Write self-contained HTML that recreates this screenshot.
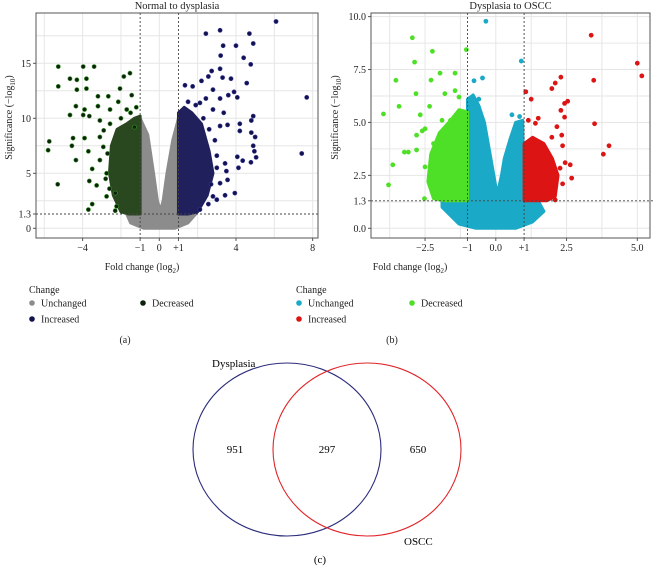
<!DOCTYPE html>
<html><head><meta charset="utf-8">
<style>
html,body{margin:0;padding:0;background:#fff;}
svg{display:block;font-family:"Liberation Serif",serif;}
</style></head>
<body>
<svg id="fig" width="654" height="569" viewBox="0 0 654 569" xmlns="http://www.w3.org/2000/svg">
  <g id="left"></g>
  <g id="right"></g>
  <g>
    <ellipse cx="287" cy="449.5" rx="94" ry="86.5" fill="none" stroke="#2b2d7a" stroke-width="1.1"/>
    <ellipse cx="367" cy="449.5" rx="94" ry="86.5" fill="none" stroke="#e0262a" stroke-width="1.1"/>
    <text x="212" y="367" font-size="11">Dysplasia</text>
    <text x="235" y="453" font-size="11" text-anchor="middle">951</text>
    <text x="327" y="453" font-size="11" text-anchor="middle">297</text>
    <text x="418" y="453" font-size="11" text-anchor="middle">650</text>
    <text x="404" y="545" font-size="11">OSCC</text>
    <text x="320" y="563" font-size="11" text-anchor="middle">(c)</text>
  </g>
</svg>
<script>
// ---- Panel (a) data ----
const aXTicks = [-4, -1, 0, 1, 4, 8];
const aXTickLabels = ["\u22124", "\u22121", "0", "+1", "4", "8"];
const aYTicks = [0, 1.3, 5, 10, 15];
const aYTickLabels = ["0", "1.3", "5", "10", "15"];
const aUnchangedCloud = [[-1,10],[-0.6,8.5],[-0.3,5],[-0.1,2.5],[0.05,1.6],[0.2,2.5],[0.4,5],[0.7,8],[1,10],[1,1.3],[1.9,1.3],[1.5,0.5],[0.8,0],[-0.8,0],[-1.5,0.5],[-1.7,1.3],[-1,1.3]];
const aDecCloud = [[-1,1.3],[-1,10.2],[-1.3,10],[-1.7,9.5],[-2.2,9],[-2.5,7.5],[-2.6,5],[-2.4,3],[-2.0,1.5],[-1.6,1.3]];
const aIncCloud = [[1,1.3],[1,10.5],[1.3,11],[1.7,10.5],[2.2,9.5],[2.6,7],[2.8,5],[2.5,3],[2.0,1.5],[1.5,1.3]];
const aDecX = [-5.27,-5.27,-5.74,-5.8,-5.3,-3.97,-3.4,-4.66,-4.3,-3.8,-4.3,-3.8,-4.35,-3.9,-4.66,-3.97,-3.65,-4.5,-4.56,-4.35,-3.9,-3.7,-3.5,-3.65,-3.5,-3.7,-3.2,-2.66,-3.2,-2.57,-2.05,-1.53,-1.85,-1.44,-2.14,-1.7,-3.1,-2.57,-3.1,-2.92,-3.1,-2.75,-3.27,-2.23,-2.3,-2.75,-1.2,-1.5,-2.0,-1.3,-2.7,-2.8,-2.6,-2.9,-2.3];
const aDecY = [14.7,12.9,7.9,7.1,4.0,14.7,14.7,13.6,13.5,13.6,12.6,12.7,11.1,10.8,10.3,10.3,10.2,8.2,7.5,6.2,8.2,7.0,5.4,4.3,2.2,1.7,12.0,12.0,11.1,10.8,12.7,14.1,13.8,12.1,11.5,10.8,9.8,9.5,8.3,7.4,6.2,5.0,3.9,2.0,3.2,2.9,11.0,10.5,10.0,9.2,6.8,4.5,3.6,8.9,1.6];
const aIncX = [6.09,2.43,3.17,4.7,3.33,4.0,4.9,3.2,4.4,4.77,3.17,2.73,2.56,2.2,3.3,3.74,4.56,1.74,1.34,2.8,3.9,4.07,3.6,7.69,3.17,2.43,2.12,2.8,3.36,4.9,4.8,4.2,4.2,3.17,3.56,5.0,4.8,4.9,4.96,5.05,7.43,4.07,4.35,4.78,4.13,3.43,3.5,3.0,3.17,3.56,3.94,3.43,3.0,2.56,2.12,2.8,1.5,1.9,2.3,2.9,3.0,2.7,2.6];
const aIncY = [18.8,17.7,18.0,17.7,16.6,16.6,16.8,15.7,15.5,14.9,14.5,14.3,13.8,13.4,13.7,13.6,13.2,12.9,13.0,12.6,12.4,11.9,12.1,11.9,11.8,11.8,11.4,10.8,10.5,10.2,9.8,9.5,8.85,9.3,9.4,8.3,8.7,7.5,7.0,6.45,6.8,6.5,6.15,6.0,5.5,5.9,5.2,5.5,4.1,4.4,3.2,3.0,2.6,2.2,1.7,2.9,11.5,11.2,10.0,8.0,6.6,4.0,9.0];

// ---- Panel (b) data ----
const bXTicks = [-2.5, -1, 0, 1, 2.5, 5];
const bXTickLabels = ["\u22122.5", "\u22121", "0.0", "+1", "2.5", "5.0"];
const bYTicks = [0, 1.3, 2.5, 5, 7.5, 10];
const bYTickLabels = ["0.0", "1.3", "2.5", "5.0", "7.5", "10.0"];
const bUnchangedCloud = [[-1,6.1],[-0.8,6.3],[-0.6,5.8],[-0.4,5],[-0.2,3.5],[0.05,1.6],[0.2,2.5],[0.3,3.3],[0.5,4.2],[0.7,5.0],[0.95,5.1],[1,1.3],[1.5,1.3],[1.7,0.8],[1.3,0.3],[0.7,0],[-0.7,0],[-1.3,0.2],[-1.9,1.0],[-1.9,1.3],[-1,1.3]];
const bDecCloud = [[-1,1.3],[-1,5.5],[-1.3,5.6],[-1.6,5.1],[-2.0,4.5],[-2.3,3.5],[-2.4,2.2],[-2.2,1.4],[-1.8,1.3]];
const bIncCloud = [[1,1.3],[1,4.0],[1.3,4.3],[1.7,4.0],[2.0,3.3],[2.2,2.5],[2.1,1.5],[1.8,1.3]];
const bUncX = [-0.35,0.9,-0.77,-0.47,0.57,0.84,-0.9,-0.6,0.8,1.3,-1.7];
const bUncY = [9.78,7.9,6.97,7.1,5.36,5.28,5.9,6.1,4.6,1.0,1.1];
const bDecX = [-2.95,-2.24,-1.04,-2.87,-1.97,-1.44,-2.29,-3.53,-1.44,-1.8,-2.82,-1.3,-3.42,-2.34,-3.97,-2.67,-2.8,-2.5,-3.23,-3.09,-2.8,-3.64,-3.79,-2.5,-2.52,-1.9,-1.6,-2.6,-2.2];
const bDecY = [9.0,8.36,8.44,7.85,7.33,7.33,7.0,6.99,6.5,6.36,6.36,6.2,5.76,5.76,5.4,5.36,4.4,4.7,3.6,3.6,3.7,3.0,2.05,2.9,1.4,5.1,5.1,4.6,4.0];
const bIncX = [3.37,5.0,5.16,3.46,2.3,2.1,1.98,1.06,1.25,3.49,2.43,2.3,2.43,2.16,2.54,4.0,3.8,2.33,1.98,2.36,1.5,1.15,1.4,2.45,2.63,2.27,2.68,2.36,2.1,1.9,1.7];
const bIncY = [9.12,7.8,7.2,6.99,7.14,6.86,6.6,6.45,6.1,4.94,5.9,5.57,5.25,4.8,6.0,3.9,3.5,4.4,4.3,3.9,5.2,5.1,4.96,3.1,3.0,2.84,2.37,2.1,1.34,2.8,3.6];

const NS = "http://www.w3.org/2000/svg";
function mk(parent, tag, attrs){const e=document.createElementNS(NS,tag);for(const k in attrs)e.setAttribute(k,attrs[k]);parent.appendChild(e);return e;}

function volcano(g, cfg){
  const sx = v => cfg.x0 + v*cfg.kx;
  const sy = v => cfg.y0 - v*cfg.ky;
  const bg = mk(g,'rect',{x:cfg.L,y:cfg.T,width:cfg.R-cfg.L,height:cfg.B-cfg.T,fill:'#fff'});
  
  
  cfg.gridX.forEach(v=>{const l=mk(g,'line',{x1:sx(v),x2:sx(v),y1:cfg.T,y2:cfg.B,stroke:'#e6e6e6','stroke-width':1});
    
    });
  cfg.gridY.forEach(v=>{const l=mk(g,'line',{x1:cfg.L,x2:cfg.R,y1:sy(v),y2:sy(v),stroke:'#e6e6e6','stroke-width':1});
    
    });
  const clouds=[[cfg.unc,cfg.cUnc],[cfg.dec,cfg.cDecFill],[cfg.inc,cfg.cIncFill]];
  clouds.forEach(([pts,col],i)=>{
    const p=mk(g,'polygon',{points:pts.map(q=>sx(q[0])+','+sy(q[1])).join(' '),fill:col,stroke:col,'stroke-width':3,'stroke-linejoin':'round'});
    
    
  });
  function dots(xs,ys,fill,stroke,name){
    xs.forEach((x,i)=>{const c=mk(g,'circle',{cx:sx(x),cy:sy(ys[i]),r:2.1,fill:fill,stroke:stroke,'stroke-width':0.6});
      
      });
  }
  if(cfg.uncX) dots(cfg.uncX,cfg.uncY,cfg.cUnc,cfg.cUnc,'unchanged-point');
  dots(cfg.decX,cfg.decY,cfg.cDec,cfg.cDecStroke,'decreased-point');
  dots(cfg.incX,cfg.incY,cfg.cInc,cfg.cIncStroke,'increased-point');
  [-1,1].forEach(v=>{const l=mk(g,'line',{x1:sx(v),x2:sx(v),y1:cfg.T,y2:cfg.B,stroke:'#444','stroke-width':0.9,'stroke-dasharray':'2,2'});
    
    });
  const h=mk(g,'line',{x1:cfg.L,x2:cfg.R+ (cfg.extendR||0),y1:sy(1.3),y2:sy(1.3),stroke:'#444','stroke-width':0.9,'stroke-dasharray':'2,2'});
  
  
  const fr=mk(g,'rect',{x:cfg.L,y:cfg.T,width:cfg.R-cfg.L,height:cfg.B-cfg.T,fill:'none',stroke:'#555','stroke-width':1});
  
  
  cfg.xTicks.forEach((v,i)=>{
    mk(g,'line',{x1:sx(v),x2:sx(v),y1:cfg.B,y2:cfg.B+3,stroke:'#555'});
    const t=mk(g,'text',{x:sx(v),y:cfg.B+13,'font-size':10,'text-anchor':'middle',fill:'#222'});
    t.textContent=cfg.xLabels[i];
    
    
  });
  cfg.yTicks.forEach((v,i)=>{
    mk(g,'line',{x1:cfg.L-3,x2:cfg.L,y1:sy(v),y2:sy(v),stroke:'#555'});
    const t=mk(g,'text',{x:cfg.L-5,y:sy(v)+3.5,'font-size':10,'text-anchor':'end',fill:'#222'});
    t.textContent=cfg.yLabels[i];
    
    
  });
  const title=mk(g,'text',{x:(cfg.L+cfg.R)/2,y:9,'font-size':10.5,'text-anchor':'middle',fill:'#222'});
  title.textContent=cfg.title;
  
  
  const xt=mk(g,'text',{x:cfg.xTitleX,y:270,'font-size':10,'text-anchor':'middle',fill:'#222'});
  xt.innerHTML='Fold change (log<tspan font-size="7" dy="3">2</tspan><tspan dy="-3">)</tspan>';
  
  
  const yt=mk(g,'text',{x:0,y:0,'font-size':10,'text-anchor':'middle',fill:'#222',transform:`translate(${cfg.yTitleX},${(cfg.T+cfg.B)/2-8}) rotate(-90)`});
  yt.innerHTML='Significance (\u2212log<tspan font-size="7" dy="3">10</tspan><tspan dy="-3">)</tspan>';
  
  
  const lg=mk(g,'g',{});
  
  
  const lt=mk(lg,'text',{x:cfg.legX,y:293,'font-size':10,fill:'#222'});lt.textContent='Change';
  
  
  const items=[['Unchanged',cfg.cUnc,cfg.legX+3,303],['Decreased',cfg.cDec,cfg.legX2,303],['Increased',cfg.cInc,cfg.legX+3,319]];
  items.forEach(it=>{
    const c=mk(lg,'circle',{cx:it[2],cy:it[3],r:2.8,fill:it[1]});
    
    
    const t=mk(lg,'text',{x:it[2]+9,y:it[3]+3.5,'font-size':10,fill:'#222'});t.textContent=it[0];
    
    
  });
  const pl=mk(g,'text',{x:cfg.panelX,y:343,'font-size':10,'text-anchor':'middle',fill:'#222'});pl.textContent=cfg.panel;
  
  
}

volcano(document.getElementById('left'),{
  L:36,R:318,T:13,B:238,x0:159.3,kx:19.17,y0:228.3,ky:11,
  gridX:[-6,-4,-2,0,2,4,6,8],gridY:[0,2.5,5,7.5,10,12.5,15,17.5],
  unc:aUnchangedCloud,dec:aDecCloud,inc:aIncCloud,
  decX:aDecX,decY:aDecY,incX:aIncX,incY:aIncY,
  cUnc:'#8c8c8c',cDec:'#0c220c',cDecStroke:'#3c9a2c',cDecFill:'#2a4820',
  cInc:'#12124e',cIncStroke:'#3a3a9a',cIncFill:'#20205c',
  xTicks:aXTicks,xLabels:aXTickLabels,yTicks:aYTicks,yLabels:aYTickLabels,
  title:'Normal to dysplasia',xTitleX:142,yTitleX:12,legX:29,legX2:143,panelX:125,panel:'(a)'
});
volcano(document.getElementById('right'),{
  L:371,R:650,T:13,B:238,x0:495.8,kx:28.3,y0:228.3,ky:21.17,extendR:4,
  gridX:[-3.75,-2.5,-1.25,0,1.25,2.5,3.75,5],gridY:[0,1.25,2.5,3.75,5,6.25,7.5,8.75,10],
  unc:bUnchangedCloud,dec:bDecCloud,inc:bIncCloud,uncX:bUncX,uncY:bUncY,
  decX:bDecX,decY:bDecY,incX:bIncX,incY:bIncY,
  cUnc:'#1aa9c6',cDec:'#4ee026',cDecStroke:'#4ee026',cDecFill:'#4ee026',
  cInc:'#dd1414',cIncStroke:'#dd1414',cIncFill:'#dd1414',
  xTicks:bXTicks,xLabels:bXTickLabels,yTicks:bYTicks,yLabels:bYTickLabels,
  title:'Dysplasia to OSCC',xTitleX:410,yTitleX:338,legX:296,legX2:412,panelX:392,panel:'(b)'
});
</script>
</body></html>
